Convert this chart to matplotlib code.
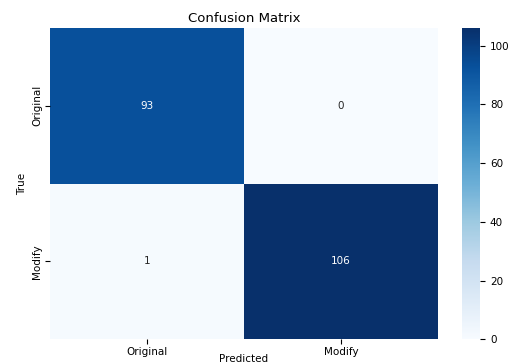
import numpy as np
import matplotlib
matplotlib.use('Agg')
import matplotlib.pyplot as plt
import seaborn as sns

labels = ['Original', 'Modify']
cm = np.array([[93, 0],
               [1, 106]])

fig = plt.figure(figsize=(5.13, 3.64), dpi=100)
ax = fig.add_axes([0.097, 0.068, 0.757, 0.855])
cax = fig.add_axes([0.900, 0.068, 0.036, 0.855])

sns.heatmap(cm, annot=True, fmt='d', cmap='Blues', ax=ax, cbar_ax=cax,
            xticklabels=labels, yticklabels=labels,
            annot_kws={'fontsize': 7.5})
ax.set_title('Confusion Matrix', fontsize=9.5, pad=4)
ax.set_xlabel('Predicted', fontsize=7.5, labelpad=0)
ax.set_ylabel('True', fontsize=7.5)
ax.tick_params(labelsize=7.5, pad=2)
cax.tick_params(labelsize=7.5)
# label sits right at the bottom edge, like the reference
ax.xaxis.set_label_coords(0.5, -0.048)

fig.savefig('out.png', dpi=100)
